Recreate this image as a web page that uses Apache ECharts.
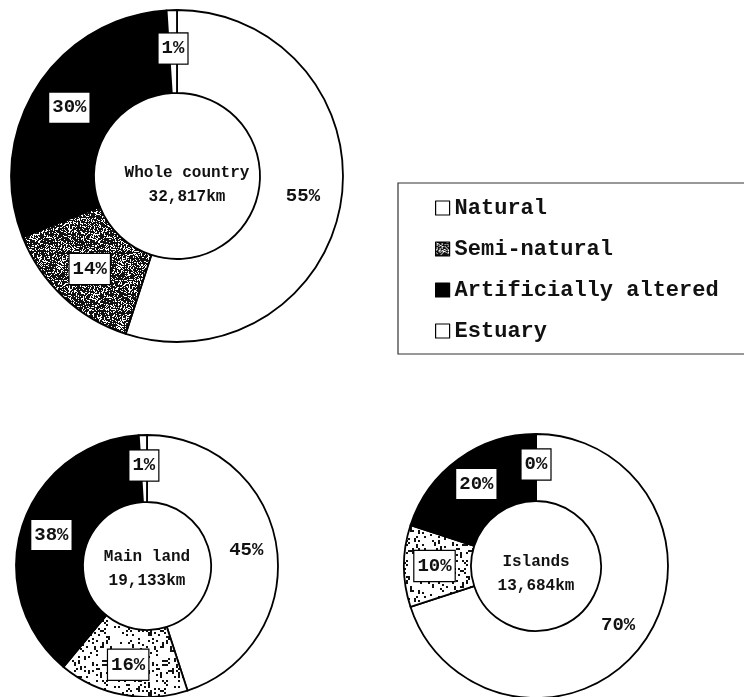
<!DOCTYPE html>
<html>
<head>
<meta charset="utf-8">
<script src="https://cdn.jsdelivr.net/npm/echarts@6/dist/echarts.min.js"></script>
<style>
  html, body { margin: 0; padding: 0; background: #fff; }
  #chart { width: 744px; height: 697px; }
</style>
</head>
<body>
<div id="chart"></div>
<script>
// Coastline classes and their shares (%) for each region
const classes = ['Natural', 'Semi-natural', 'Artificially altered', 'Estuary'];
const wholeCountry = [55, 14, 30, 1];
const mainLand = [45, 16, 38, 1];
const islands = [70, 10, 20, 0];
const regionNames = ['Whole country', 'Main land', 'Islands'];
const regionLengths = ['32,817km', '19,133km', '13,684km'];

const FONT = '"Liberation Mono", "DejaVu Sans Mono", monospace';

// Speckled hatch used for the semi-natural class (deterministic noise texture)
function speckle(density, seed, blob) {
  const size = 60;
  const c = document.createElement('canvas');
  c.width = c.height = size;
  const ctx = c.getContext('2d');
  ctx.fillStyle = '#fff';
  ctx.fillRect(0, 0, size, size);
  ctx.fillStyle = '#111';
  let s = seed >>> 0;
  const next = () => { s = (Math.imul(s, 1103515245) + 12345) >>> 0; return s / 4294967296; };
  for (let y = 0; y < size; y += blob) {
    for (let x = 0; x < size; x += blob) {
      if (next() < density) ctx.fillRect(x, y, blob, blob);
    }
  }
  return c;
}

const darkSpeckle = { image: speckle(0.72, 7, 1), repeat: 'repeat' };
const lightSpeckle = { image: speckle(0.15, 31, 2), repeat: 'repeat' };

function ring(values, center, radius, semiFill) {
  const fills = ['#fff', semiFill, '#000', '#fff'];
  return {
    type: 'pie',
    center: center,
    radius: radius,
    startAngle: 90,
    clockwise: true,
    silent: true,
    avoidLabelOverlap: false,
    label: {
      show: true,
      position: 'inside',
      formatter: p => p.value + '%',
      fontFamily: FONT,
      fontSize: 19,
      fontWeight: 'bold',
      color: '#111',
      backgroundColor: '#fff',
      borderColor: '#000',
      borderWidth: 1.2,
      padding: [6, 3, 5, 3]
    },
    labelLine: { show: false },
    itemStyle: { borderColor: '#000', borderWidth: 1.8 },
    data: classes.map((name, i) => {
      const d = { name: name, value: values[i], itemStyle: { color: fills[i] } };
      if (i === 0) d.label = { backgroundColor: 'transparent', borderWidth: 0 };
      return d;
    })
  };
}

const centers = [[187, 161], [147, 545], [536, 550]];

const chart = echarts.init(document.getElementById('chart'), null, { renderer: 'canvas' });
chart.setOption({
  backgroundColor: '#fff',
  animation: false,
  legend: {
    orient: 'vertical',
    left: 398,
    top: 183,
    padding: [14, 26, 12, 37],
    itemGap: 19,
    itemWidth: 14,
    itemHeight: 14,
    icon: 'rect',
    selectedMode: false,
    borderColor: '#333',
    borderWidth: 1.2,
    itemStyle: { borderColor: '#000', borderWidth: 1.2 },
    textStyle: { fontFamily: FONT, fontSize: 22, fontWeight: 'bold', color: '#111' },
    data: classes
  },
  graphic: regionNames.map((n, i) => ({
    type: 'text',
    x: centers[i][0],
    y: centers[i][1],
    style: {
      text: n + '\n' + regionLengths[i],
      textAlign: 'center',
      textVerticalAlign: 'top',
      font: 'bold 16px ' + FONT,
      lineHeight: 24,
      fill: '#111'
    },
    z: 100
  })),
  series: [
    ring(wholeCountry, [177, 176], [83, 166], darkSpeckle),
    ring(mainLand, [147, 566], [64, 131], lightSpeckle),
    ring(islands, [536, 566], [65, 132], lightSpeckle)
  ]
});
</script>
</body>
</html>
